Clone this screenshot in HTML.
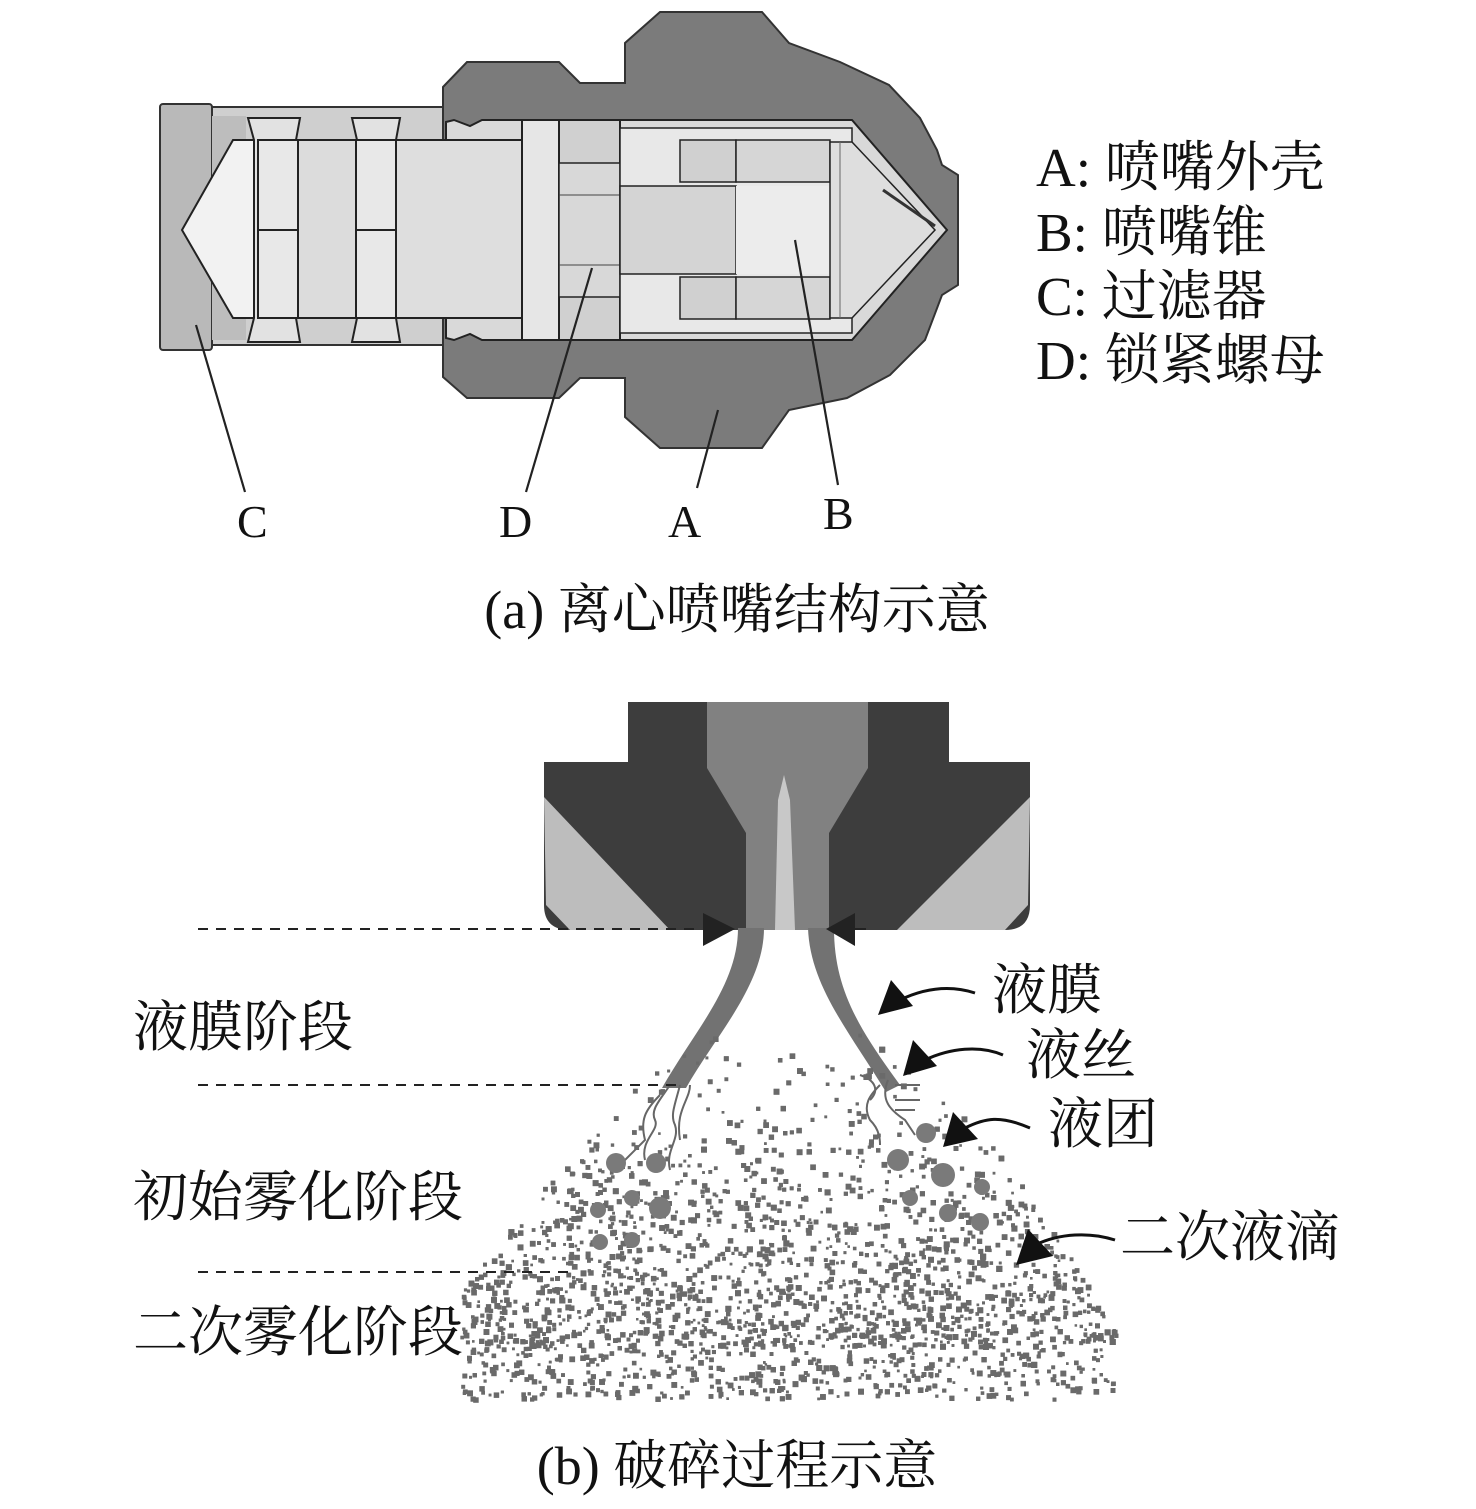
<!DOCTYPE html>
<html><head><meta charset="utf-8"><style>
html,body{margin:0;padding:0;background:#fff}
svg{display:block}
text{font-family:"Liberation Serif","Noto Serif CJK SC",serif;fill:#111}
</style></head><body>
<svg id="s" width="1476" height="1509" viewBox="0 0 1476 1509" xmlns="http://www.w3.org/2000/svg">
<rect x="205" y="107" width="240" height="238" fill="#cfcfcf" stroke="#333" stroke-width="2"/>
<rect x="160" y="104" width="52" height="246" fill="#b9b9b9" stroke="#333" stroke-width="2" rx="3"/>
<polygon points="212,116 246,116 246,340 212,340" fill="#bdbdbd"/>
<polygon points="182,230 233,140 400,140 400,318 233,318" fill="#f2f2f2" stroke="#222" stroke-width="2"/>
<g fill="#e2e2e2" stroke="#222" stroke-width="2">
<path d="M248,118 H300 L296,140 V318 L300,342 H248 L254,318 V140 Z"/>
<path d="M352,118 H400 L396,140 V318 L400,342 H352 L357,318 V140 Z"/>
</g>
<rect x="258" y="140" width="40" height="178" fill="#e8e8e8" stroke="#222" stroke-width="2"/>
<rect x="356" y="140" width="40" height="178" fill="#e8e8e8" stroke="#222" stroke-width="2"/>
<line x1="258" y1="230" x2="298" y2="230" stroke="#222" stroke-width="2"/>
<line x1="356" y1="230" x2="396" y2="230" stroke="#222" stroke-width="2"/>
<rect x="298" y="140" width="58" height="178" fill="#dcdcdc" stroke="#222" stroke-width="2"/>
<polygon points="443,87 467,62 559,62 580,83 625,83 625,43 660,12 762,12 789,43 840,62 889,85 920,118 937,150 942,165 958,175 958,285 942,295 925,340 890,375 847,398 789,410 762,448 660,448 625,417 625,378 580,378 559,398 467,398 443,377" fill="#7b7b7b" stroke="#333" stroke-width="2"/>
<polygon points="446,122 454,120 470,126 482,120 852,120 947,230 852,340 482,340 470,334 454,340 446,338" fill="#d9d9d9" stroke="#222" stroke-width="2"/>
<rect x="396" y="140" width="126" height="178" fill="#dedede" stroke="#222" stroke-width="2"/>
<rect x="522" y="120" width="37" height="220" fill="#e6e6e6" stroke="#222" stroke-width="2"/>
<rect x="559" y="120" width="61" height="220" fill="#d0d0d0" stroke="#222" stroke-width="2"/>
<rect x="559" y="163" width="61" height="134" fill="#d8d8d8" stroke="#222" stroke-width="1.5"/>
<line x1="559" y1="195" x2="620" y2="195" stroke="#444"/><line x1="559" y1="265" x2="620" y2="265" stroke="#444"/>
<rect x="620" y="128" width="232" height="205" fill="#e8e8e8" stroke="#222" stroke-width="1.5"/>
<rect x="680" y="140" width="56" height="42" fill="#d0d0d0" stroke="#222" stroke-width="1.5"/>
<rect x="680" y="277" width="56" height="42" fill="#d0d0d0" stroke="#222" stroke-width="1.5"/>
<rect x="736" y="140" width="94" height="42" fill="#d6d6d6" stroke="#222" stroke-width="1.5"/>
<rect x="736" y="277" width="94" height="42" fill="#d6d6d6" stroke="#222" stroke-width="1.5"/>
<rect x="620" y="186" width="116" height="88" fill="#d4d4d4" stroke="#222" stroke-width="1.5"/>
<rect x="736" y="186" width="94" height="88" fill="#ececec"/>
<polygon points="830,142 852,142 935,230 852,318 830,318" fill="#dedede" stroke="#222" stroke-width="1.5"/>
<line x1="840" y1="142" x2="840" y2="318" stroke="#666"/>
<line x1="883" y1="190" x2="935" y2="226" stroke="#333" stroke-width="3"/>
<g stroke="#222" stroke-width="2.2">
<line x1="196" y1="325" x2="245" y2="492"/>
<line x1="592" y1="268" x2="526" y2="492"/>
<line x1="718" y1="410" x2="697" y2="488"/>
<line x1="795" y1="240" x2="838" y2="485"/>
</g>
<g font-size="46">
<text x="237" y="537">C</text><text x="499" y="537">D</text><text x="668" y="537">A</text><text x="823" y="529">B</text>
</g>
<g font-size="55">
<text x="1036" y="186">A: 喷嘴外壳</text>
<text x="1036" y="251">B: 喷嘴锥</text>
<text x="1036" y="315">C: 过滤器</text>
<text x="1036" y="379">D: 锁紧螺母</text>
</g>
<text x="737" y="628" font-size="54" text-anchor="middle">(a) 离心喷嘴结构示意</text>

<path d="M628,702 H949 V762 H1030 V905 Q1030,930 1005,930 H570 Q544,930 544,905 V762 H628 Z" fill="#3d3d3d"/>
<polygon points="544,797 670,930 570,930 546,905" fill="#bdbdbd"/>
<polygon points="1030,797 897,930 1005,930 1028,905" fill="#bdbdbd"/>
<polygon points="707,702 868,702 868,768 829,833 829,930 746,930 746,833 707,768" fill="#818181"/>
<polygon points="784,775 790,800 795,930 775,930 778,800" fill="#c8c8c8"/>
<path d="M738,928 C738,985 695,1030 662,1088 L686,1088 C716,1035 764,985 764,928 Z" fill="#727272"/>
<path d="M808,928 C810,985 848,1030 886,1092 L900,1085 C860,1030 834,990 834,928 Z" fill="#727272"/>
<g fill="none" stroke="#666" stroke-width="2">
<path d="M670,1085 C660,1100 650,1110 655,1120 C660,1130 640,1140 645,1160"/>
<path d="M680,1085 C675,1105 670,1115 675,1125 C680,1140 665,1150 670,1170"/>
<path d="M690,1085 C690,1100 675,1110 680,1140"/>
<path d="M660,1095 C645,1110 640,1120 645,1140 L620,1165"/>
<path d="M880,1085 C870,1095 862,1105 870,1120 C880,1130 880,1140 880,1145"/>
<path d="M888,1080 C880,1100 890,1110 905,1120 L915,1135"/>
<path d="M895,1085 L920,1085 M895,1100 L920,1100 M895,1110 L915,1110"/>
<path d="M860,1075 C875,1080 880,1090 870,1100"/>
</g>
<g id="dots" fill="#6a6a6a"></g>
<g fill="#7a7a7a">
<circle cx="616" cy="1163" r="10"/><circle cx="656" cy="1163" r="10"/>
<circle cx="632" cy="1198" r="8"/><circle cx="660" cy="1208" r="11"/>
<circle cx="598" cy="1210" r="8"/><circle cx="600" cy="1242" r="8"/><circle cx="632" cy="1240" r="8"/>
<circle cx="926" cy="1133" r="10"/><circle cx="898" cy="1160" r="11"/><circle cx="943" cy="1175" r="12"/>
<circle cx="982" cy="1187" r="8"/><circle cx="910" cy="1198" r="8"/><circle cx="948" cy="1213" r="9"/><circle cx="980" cy="1222" r="9"/>
</g>
<g stroke="#222" stroke-width="2" stroke-dasharray="10,8">
<line x1="198" y1="929" x2="700" y2="929"/>
<line x1="198" y1="1085" x2="680" y2="1085"/>
<line x1="198" y1="1272" x2="570" y2="1272"/>
</g>
<polygon points="735,929 703,913 703,946" fill="#222"/>
<polygon points="826,929 855,913 855,946" fill="#222"/>
<line x1="855" y1="929" x2="866" y2="929" stroke="#222" stroke-width="2"/>
<g fill="none" stroke="#111" stroke-width="3">
<path d="M975,993 C950,985 925,988 900,1000"/>
<path d="M1003,1055 C980,1045 950,1048 925,1060"/>
<path d="M1030,1128 C1000,1115 985,1118 965,1128"/>
<path d="M1115,1240 C1090,1232 1060,1233 1035,1245"/>
</g>
<g fill="#111">
<polygon points="878,1015 891,980 913,1006"/>
<polygon points="903,1076 913,1040 937,1066"/>
<polygon points="943,1147 953,1112 978,1139"/>
<polygon points="1016,1265 1028,1229 1053,1256"/>
</g>
<g font-size="55">
<text x="992" y="1009">液膜</text>
<text x="1026" y="1074">液丝</text>
<text x="1048" y="1143">液团</text>
<text x="1120" y="1256">二次液滴</text>
<text x="133" y="1046">液膜阶段</text>
<text x="133" y="1216">初始雾化阶段</text>
<text x="133" y="1351">二次雾化阶段</text>
</g>
<text x="737" y="1484" font-size="54" text-anchor="middle">(b) 破碎过程示意</text>
</svg>
<script>
(function(){
var g=document.getElementById('dots'),s=12345;
function r(){s=(s*1103515245+12345)%2147483648;return s/2147483648;}
var out='';var n=0,tries=0;
while(n<4000&&tries<600000){tries++;
var y=1025+r()*375,x=460+r()*660;
var t=(y-1025)/300; if(t>1)t=1;
var cx=790-15*t, hw=50+290*Math.sqrt(t)*0.6+290*t*0.4;
if(Math.abs(x-cx)>hw)continue;
if(y>1398)continue;
var d=0.05+0.95*Math.pow(t,1.6);
if(y>1345) d*=0.6;
if(r()>d)continue;
var sz=2.5+r()*3.5;
out+='<rect x="'+x.toFixed(1)+'" y="'+y.toFixed(1)+'" width="'+sz.toFixed(1)+'" height="'+sz.toFixed(1)+'"/>';n++;}
g.innerHTML=out;
})();
</script>
</body></html>
